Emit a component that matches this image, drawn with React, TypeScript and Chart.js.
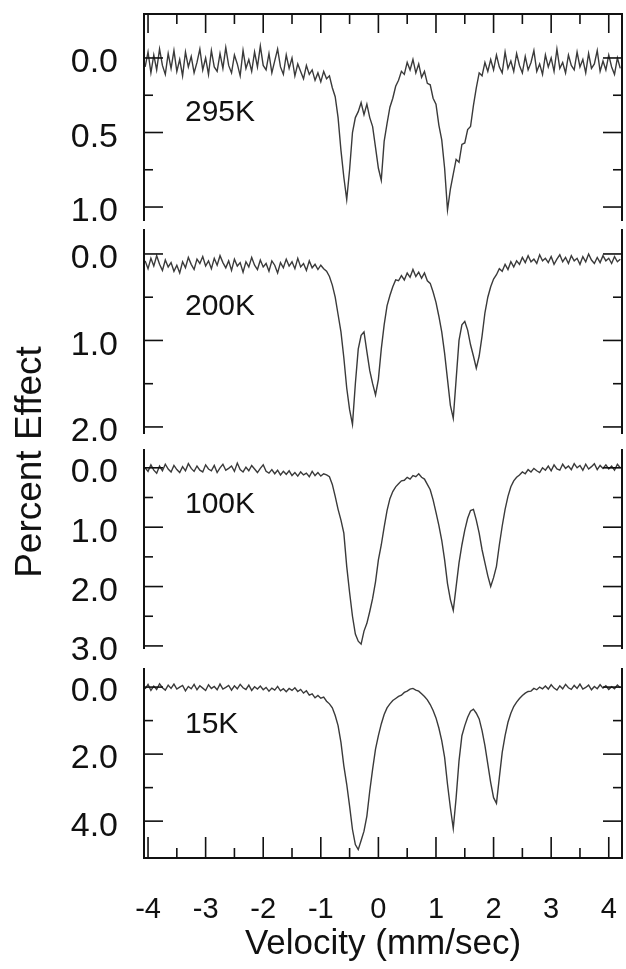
import React, { useEffect, useRef } from "react";
import { Chart, registerables } from "chart.js";

Chart.register(...registerables);

// Velocity channels (mm/sec)
const VELOCITY = [
  -4.05, -4.0, -3.95, -3.9, -3.85, -3.8, -3.75, -3.7, -3.65, -3.6,
  -3.55, -3.5, -3.45, -3.4, -3.35, -3.3, -3.25, -3.2, -3.15, -3.1,
  -3.05, -3.0, -2.95, -2.9, -2.85, -2.8, -2.75, -2.7, -2.65, -2.6,
  -2.55, -2.5, -2.45, -2.4, -2.35, -2.3, -2.25, -2.2, -2.15, -2.1,
  -2.05, -2.0, -1.95, -1.9, -1.85, -1.8, -1.75, -1.7, -1.65, -1.6,
  -1.55, -1.5, -1.45, -1.4, -1.35, -1.3, -1.25, -1.2, -1.15, -1.1,
  -1.05, -1.0, -0.95, -0.9, -0.85, -0.8, -0.75, -0.7, -0.65, -0.6,
  -0.55, -0.5, -0.45, -0.4, -0.35, -0.3, -0.25, -0.2, -0.15, -0.1,
  -0.05, 0.0, 0.05, 0.1, 0.15, 0.2, 0.25, 0.3, 0.35, 0.4,
  0.45, 0.5, 0.55, 0.6, 0.65, 0.7, 0.75, 0.8, 0.85, 0.9,
  0.95, 1.0, 1.05, 1.1, 1.15, 1.2, 1.25, 1.3, 1.35, 1.4,
  1.45, 1.5, 1.55, 1.6, 1.65, 1.7, 1.75, 1.8, 1.85, 1.9,
  1.95, 2.0, 2.05, 2.1, 2.15, 2.2, 2.25, 2.3, 2.35, 2.4,
  2.45, 2.5, 2.55, 2.6, 2.65, 2.7, 2.75, 2.8, 2.85, 2.9,
  2.95, 3.0, 3.05, 3.1, 3.15, 3.2, 3.25, 3.3, 3.35, 3.4,
  3.45, 3.5, 3.55, 3.6, 3.65, 3.7, 3.75, 3.8, 3.85, 3.9,
  3.95, 4.0, 4.05, 4.1, 4.15, 4.2,
];

// Percent effect (absorption, plotted downward)
const SPECTRUM_295K = [
  0.06, -0.04, 0.10, -0.02, 0.08, -0.06, 0.05, 0.11, -0.03, 0.07,
  -0.05, 0.09, 0.01, 0.12, -0.04, 0.06, -0.01, 0.10, 0.03, -0.06,
  0.08, 0.00, 0.11, -0.05, 0.06, 0.09, -0.03, 0.07, -0.07, 0.05,
  0.10, -0.02, 0.04, 0.12, -0.05, 0.07, 0.01, 0.09, -0.04, 0.06,
  -0.08, 0.05, 0.08, -0.03, 0.10, 0.02, -0.06, 0.06, 0.11, -0.02,
  0.07, 0.00, 0.12, 0.04, 0.09, 0.14, 0.05, 0.11, 0.08, 0.15,
  0.10, 0.16, 0.09, 0.14, 0.12, 0.20, 0.26, 0.40, 0.62, 0.80,
  0.95, 0.75, 0.50, 0.40, 0.36, 0.30, 0.38, 0.31, 0.40, 0.46,
  0.60, 0.74, 0.82, 0.56, 0.44, 0.33, 0.27, 0.19, 0.15, 0.09,
  0.11, 0.03, 0.08, 0.01, 0.10, 0.04, 0.13, 0.09, 0.17, 0.18,
  0.27, 0.31, 0.45, 0.55, 0.74, 1.02, 0.88, 0.78, 0.68, 0.70,
  0.58, 0.57, 0.48, 0.46, 0.32, 0.20, 0.10, 0.12, 0.03, 0.09,
  0.01, 0.08, -0.02, 0.06, 0.10, -0.04, 0.07, 0.02, 0.09, -0.03,
  0.05, 0.10, -0.01, 0.08, 0.03, -0.05, 0.09, 0.04, 0.11, -0.02,
  0.06, 0.00, 0.09, -0.06, 0.07, 0.03, 0.10, -0.02, 0.05, 0.08,
  -0.04, 0.06, 0.01, 0.10, -0.03, 0.07, 0.04, -0.05, 0.09, 0.02,
  0.08, -0.02, 0.06, 0.11, 0.00, 0.07,
];

const SPECTRUM_200K = [
  0.08, 0.17, 0.05, 0.14, 0.02, 0.12, 0.19, 0.07, 0.15, 0.10,
  0.20, 0.13, 0.22, 0.09, 0.16, 0.04, 0.12, 0.18, 0.06, 0.11,
  0.03, 0.14, 0.08, 0.17, 0.05, 0.13, 0.02, 0.10, 0.16, 0.08,
  0.19, 0.06, 0.14, 0.10, 0.21, 0.09, 0.15, 0.04, 0.13, 0.18,
  0.07, 0.15, 0.11, 0.20, 0.08, 0.13, 0.22, 0.10, 0.16, 0.06,
  0.14, 0.09, 0.17, 0.05, 0.15, 0.11, 0.19, 0.08, 0.16, 0.12,
  0.18, 0.13, 0.17, 0.20, 0.26, 0.36, 0.50, 0.70, 0.90, 1.20,
  1.55, 1.80, 1.97, 1.50, 1.10, 0.94, 0.90, 1.13, 1.35, 1.50,
  1.63, 1.45, 1.10, 0.82, 0.60, 0.48, 0.38, 0.30, 0.31, 0.25,
  0.30, 0.22, 0.27, 0.18, 0.26, 0.21, 0.28, 0.22, 0.31, 0.34,
  0.44, 0.56, 0.72, 0.90, 1.15, 1.45, 1.75, 1.90, 1.45, 1.00,
  0.82, 0.78, 0.88, 1.05, 1.18, 1.32, 1.18, 0.95, 0.68, 0.50,
  0.38, 0.29, 0.24, 0.17, 0.20, 0.12, 0.18, 0.09, 0.15, 0.08,
  0.12, 0.04, 0.10, 0.02, 0.09, 0.06, 0.11, 0.01, 0.08, 0.05,
  0.10, 0.03, 0.12, 0.06, 0.01, 0.09, 0.04, 0.11, 0.02, 0.08,
  0.05, 0.12, 0.03, 0.09, 0.00, 0.07, 0.11, 0.04, 0.10, 0.02,
  0.08, 0.05, 0.11, 0.03, 0.09, 0.06,
];

const SPECTRUM_100K = [
  0.00, 0.06, -0.05, 0.04, 0.09, -0.03, 0.05, -0.06, 0.02, 0.07,
  -0.04, 0.03, 0.08, -0.02, 0.05, -0.07, 0.01, 0.06, -0.03, 0.04,
  0.07, -0.05, 0.02, 0.05, -0.04, 0.08, 0.00, -0.06, 0.04, 0.01,
  -0.03, 0.06, -0.08, 0.03, 0.07, -0.01, 0.05, -0.04, 0.02, 0.08,
  0.01, -0.05, 0.06, 0.09, 0.03, 0.10, 0.04, 0.12, 0.06, 0.11,
  0.05, 0.13, 0.08, 0.14, 0.07, 0.12, 0.09, 0.15, 0.06, 0.13,
  0.08, 0.14, 0.10, 0.12, 0.15, 0.28, 0.48, 0.70, 0.88, 1.10,
  1.66, 2.10, 2.50, 2.80, 2.92, 2.97, 2.75, 2.62, 2.42, 2.20,
  1.92, 1.55, 1.30, 1.00, 0.72, 0.52, 0.40, 0.32, 0.27, 0.22,
  0.21, 0.16, 0.19, 0.13, 0.15, 0.10, 0.16, 0.19, 0.28, 0.37,
  0.54, 0.75, 0.97, 1.22, 1.55, 1.95, 2.22, 2.40, 2.00, 1.60,
  1.30, 1.05, 0.85, 0.72, 0.70, 0.88, 1.10, 1.38, 1.60, 1.82,
  2.00, 1.85, 1.66, 1.30, 0.98, 0.70, 0.48, 0.32, 0.22, 0.16,
  0.12, 0.07, 0.10, 0.03, 0.07, 0.01, 0.05, 0.08, 0.00, 0.04,
  -0.03, 0.05, -0.05, 0.02, 0.04, -0.06, 0.01, -0.03, 0.03, -0.07,
  0.00, -0.04, 0.04, -0.06, 0.02, -0.02, -0.07, 0.03, -0.04, 0.01,
  -0.05, 0.02, -0.03, 0.04, -0.06, 0.00,
];

const SPECTRUM_15K = [
  0.05, -0.08, 0.10, -0.03, 0.07, -0.10, 0.02, 0.09, -0.06, 0.04,
  -0.09, 0.06, 0.00, -0.05, 0.11, -0.02, 0.05, -0.08, 0.08, -0.04,
  0.03, 0.10, -0.07, 0.04, -0.02, 0.08, -0.09, 0.06, 0.01, -0.05,
  0.09, -0.04, 0.05, -0.08, 0.02, 0.07, -0.06, 0.10, -0.01, 0.06,
  -0.03, 0.08, 0.01, 0.12, 0.03, 0.09, -0.02, 0.11, 0.05, 0.14,
  0.04, 0.10, 0.02, 0.13, 0.07, 0.18, 0.11, 0.24, 0.20, 0.32,
  0.25, 0.33, 0.30, 0.42, 0.50, 0.62, 0.85, 1.15, 1.65, 2.35,
  2.90, 3.55, 4.25, 4.70, 4.85, 4.58, 4.30, 3.85, 3.10, 2.45,
  1.85, 1.45, 1.10, 0.82, 0.62, 0.50, 0.40, 0.34, 0.28, 0.24,
  0.16, 0.12, 0.06, 0.04, 0.09, 0.12, 0.20, 0.28, 0.38, 0.52,
  0.70, 0.92, 1.22, 1.60, 2.10, 2.90, 3.60, 4.22, 3.30, 2.20,
  1.45, 1.15, 0.90, 0.72, 0.66, 0.78, 0.95, 1.30, 1.75, 2.30,
  2.85, 3.30, 3.47, 2.70, 1.95, 1.45, 1.05, 0.78, 0.58, 0.45,
  0.34, 0.25, 0.18, 0.13, 0.12, 0.04, 0.08, 0.00, 0.05, -0.03,
  0.06, -0.07, 0.03, 0.09, -0.04, 0.05, -0.08, 0.02, 0.07, -0.05,
  0.04, -0.09, 0.06, 0.01, -0.06, 0.08, -0.02, 0.05, -0.07, 0.03,
  -0.04, 0.07, -0.01, 0.05, -0.06, 0.02,
];

const TEMPERATURES = ["295K", "200K", "100K", "15K"];
const X_TICKS = [-4, -3, -2, -1, 0, 1, 2, 3, 4];
const X_MINOR_TICKS = [-3.5, -2.5, -1.5, -0.5, 0.5, 1.5, 2.5, 3.5];
const Y_TICKS_295K = [0, 0.5, 1.0];
const Y_MINOR_295K = [0.25, 0.75];
const Y_TICKS_200K = [0, 1, 2];
const Y_MINOR_200K = [0.5, 1.5];
const Y_TICKS_100K = [0, 1, 2, 3];
const Y_MINOR_100K = [0.5, 1.5, 2.5];
const Y_TICKS_15K = [0, 2, 4];
const Y_MINOR_15K = [1, 3];

const FONT = "'Liberation Sans', Arial, Helvetica, sans-serif";
const INK = "#111";

const X_MIN = -4.07;
const X_MAX = 4.23;

type PanelCfg = {
  label: string;
  values: number[];
  yMin: number;
  yMax: number;
  major: number[];
  minor: number[];
  canvasTop: number;
  canvasHeight: number;
  padTop: number;
  padBottom: number;
  labelDy: number;
  topFrame: boolean;
  bottomAxis: boolean;
};

const PANELS: PanelCfg[] = [
  { label: TEMPERATURES[0], values: SPECTRUM_295K, yMin: -0.295, yMax: 1.087, major: Y_TICKS_295K, minor: Y_MINOR_295K,
    canvasTop: 0, canvasHeight: 245, padTop: 14, padBottom: 25, labelDy: 99, topFrame: true, bottomAxis: false },
  { label: TEMPERATURES[1], values: SPECTRUM_200K, yMin: -0.277, yMax: 2.07, major: Y_TICKS_200K, minor: Y_MINOR_200K,
    canvasTop: 205, canvasHeight: 250, padTop: 25, padBottom: 22, labelDy: 77, topFrame: false, bottomAxis: false },
  { label: TEMPERATURES[2], values: SPECTRUM_100K, yMin: -0.30, yMax: 3.035, major: Y_TICKS_100K, minor: Y_MINOR_100K,
    canvasTop: 425, canvasHeight: 245, padTop: 25, padBottom: 22, labelDy: 55, topFrame: false, bottomAxis: false },
  { label: TEMPERATURES[3], values: SPECTRUM_15K, yMin: -0.54, yMax: 5.10, major: Y_TICKS_15K, minor: Y_MINOR_15K,
    canvasTop: 640, canvasHeight: 329, padTop: 29, padBottom: 0, labelDy: 56, topFrame: false, bottomAxis: true },
];

function Panel({ cfg }: { cfg: PanelCfg }) {
  const ref = useRef<HTMLCanvasElement | null>(null);

  useEffect(() => {
    if (!ref.current) return;

    const framePlugin = {
      id: "frame" + cfg.label,
      afterDraw(chart: any) {
        const { ctx, chartArea } = chart;
        const { left, right, top, bottom } = chartArea;
        const xs = chart.scales.x;
        const ys = chart.scales.y;
        ctx.save();
        ctx.strokeStyle = INK;
        ctx.lineCap = "butt";
        const seg = (x1: number, y1: number, x2: number, y2: number, w: number) => {
          ctx.lineWidth = w;
          ctx.beginPath();
          ctx.moveTo(x1, y1);
          ctx.lineTo(x2, y2);
          ctx.stroke();
        };
        // frame
        seg(left, top - 1, left, bottom + 1, 2);
        seg(right, top - 1, right, bottom + 1, 2);
        if (cfg.topFrame) seg(left - 1, top, right + 1, top, 2);
        if (cfg.bottomAxis) seg(left - 1, bottom, right + 1, bottom, 2);
        // y ticks (inward, both sides)
        cfg.major.forEach((v) => {
          const y = ys.getPixelForValue(v);
          seg(left, y, left + 19, y, 1.6);
          seg(right, y, right - 19, y, 1.6);
        });
        cfg.minor.forEach((v) => {
          const y = ys.getPixelForValue(v);
          seg(left, y, left + 9, y, 1.6);
          seg(right, y, right - 9, y, 1.6);
        });
        // x ticks
        if (cfg.topFrame) {
          X_TICKS.forEach((v) => { const x = xs.getPixelForValue(v); seg(x, top, x, top + 19, 1.6); });
          X_MINOR_TICKS.forEach((v) => { const x = xs.getPixelForValue(v); seg(x, top, x, top + 10, 1.6); });
        }
        if (cfg.bottomAxis) {
          X_TICKS.forEach((v) => { const x = xs.getPixelForValue(v); seg(x, bottom, x, bottom - 21, 1.6); });
          X_MINOR_TICKS.forEach((v) => { const x = xs.getPixelForValue(v); seg(x, bottom, x, bottom - 10, 1.6); });
        }
        // temperature label
        ctx.fillStyle = INK;
        ctx.font = "30px " + FONT;
        ctx.textAlign = "left";
        ctx.textBaseline = "middle";
        ctx.fillText(cfg.label, left + 41, top + cfg.labelDy);
        ctx.restore();
      },
    };

    const xScale: any = cfg.bottomAxis
      ? {
          type: "linear",
          position: "bottom",
          min: X_MIN,
          max: X_MAX,
          afterBuildTicks: (s: any) => { s.ticks = X_TICKS.map((v) => ({ value: v })); },
          afterFit: (s: any) => { s.height = 111; s.paddingLeft = 0; s.paddingRight = 0; },
          grid: { display: false, drawTicks: false },
          border: { display: false },
          ticks: {
            padding: 35,
            color: INK,
            maxRotation: 0,
            autoSkip: false,
            font: { family: FONT, size: 29 },
            callback: (v: any) => String(v),
          },
          title: {
            display: true,
            text: "Velocity (mm/sec)",
            color: INK,
            font: { family: FONT, size: 35 },
            padding: { top: 0, bottom: 4 },
          },
        }
      : { type: "linear", display: false, min: X_MIN, max: X_MAX };

    const chart = new Chart(ref.current, {
      type: "line",
      data: {
        datasets: [
          {
            label: cfg.label,
            data: VELOCITY.map((x, i) => ({ x, y: cfg.values[i] })),
            borderColor: "#3a3a3a",
            borderWidth: 1.4,
            pointRadius: 0,
            tension: 0,
            fill: false,
          },
        ],
      },
      options: {
        responsive: false,
        animation: false,
        events: [],
        layout: { padding: { top: cfg.padTop, bottom: cfg.padBottom, left: 0, right: 4 } },
        plugins: { legend: { display: false }, tooltip: { enabled: false } },
        scales: {
          x: xScale,
          y: {
            type: "linear",
            reverse: true,
            min: cfg.yMin,
            max: cfg.yMax,
            afterBuildTicks: (s: any) => { s.ticks = cfg.major.map((v) => ({ value: v })); },
            afterFit: (s: any) => { s.width = 144; s.paddingTop = 0; s.paddingBottom = 0; },
            grid: { display: false, drawTicks: false },
            border: { display: false },
            ticks: {
              padding: 26,
              labelOffset: 5,
              color: INK,
              autoSkip: false,
              font: { family: FONT, size: 34 },
              callback: (v: any) => Number(v).toFixed(1),
            },
          },
        },
      } as any,
      plugins: [framePlugin],
    });
    return () => chart.destroy();
  }, [cfg]);

  return (
    <canvas
      ref={ref}
      width={626}
      height={cfg.canvasHeight}
      style={{ position: "absolute", left: 0, top: cfg.canvasTop, width: 626, height: cfg.canvasHeight }}
    />
  );
}

export default function App() {
  return (
    <div style={{ position: "absolute", left: 0, top: 0, width: 626, height: 969, background: "#fff", overflow: "hidden" }}>
      {PANELS.map((p) => (
        <Panel key={p.label} cfg={p} />
      ))}
      <div
        style={{
          position: "absolute",
          left: 29 - 150,
          top: 462 - 22,
          width: 300,
          height: 44,
          lineHeight: "44px",
          textAlign: "center",
          fontFamily: FONT,
          fontSize: 37,
          color: INK,
          transform: "rotate(-90deg)",
          whiteSpace: "nowrap",
        }}
      >
        Percent Effect
      </div>
    </div>
  );
}
